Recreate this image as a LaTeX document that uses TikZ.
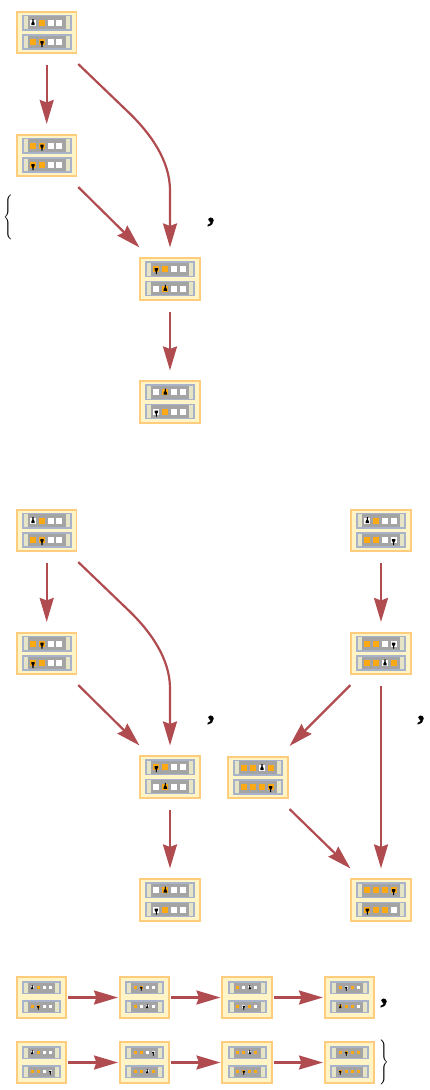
\documentclass[tikz,border=0pt]{standalone}
\usepackage{fontspec}
\setmainfont{Liberation Serif}
\newfontfamily\commafont[FakeBold=1.5]{Liberation Serif Bold}
\usetikzlibrary{arrows.meta}
\definecolor{edgecol}{HTML}{B04B50}
\definecolor{boxline}{HTML}{FDCC7C}
\definecolor{boxfill}{HTML}{FFF4C6}
\definecolor{rowline}{HTML}{A8B3C9}
\definecolor{rowend}{HTML}{E6E4C6}
\definecolor{rowmid}{HTML}{A4A4A4}
\definecolor{cellO}{HTML}{FCA914}
\definecolor{cellW}{HTML}{FFFFFF}
\tikzset{
  x=1pt,y=-1pt,
  largebox/.style={draw=boxline,fill=boxfill,line width=1.6pt,minimum width=59.5pt,minimum height=41.5pt,inner sep=0pt},
  smallbox/.style={draw=boxline,fill=boxfill,line width=1.6pt,minimum width=49.5pt,minimum height=41.5pt,inner sep=0pt},
  conn/.style={draw=edgecol,line width=2.2pt,-{Stealth[length=24pt,width=14pt,inset=2.5pt,fill=edgecol]}},
  bigmark/.style={inner sep=0pt,font=\fontsize{28}{28}\selectfont\commafont},
  delim/.style={inner sep=0pt},
}
\newcommand{\tapecell}[4]{\fill[cell#3] ({#1-#4},{#2-#4}) rectangle ({#1+#4},{#2+#4});}
\newcommand{\headmark}[4]{% x, y, dir, scale
  \begin{scope}[shift={(#1,{#2+(0.7+1.3*#3)*#4})},xscale=#4,yscale={#3*#4}]
  \fill[black] (-1.7,-3) -- (1.7,-3) -- (1.7,-1.4) -- (0.55,0.6) -- (0.55,3) -- (-0.55,3) -- (-0.55,0.6) -- (-1.7,-1.4) -- cycle;
  \end{scope}}
\newcommand{\largerow}[7]{% y, c1..c4, headindex, dir
  \fill[rowline] (-25,{#1-7.8}) rectangle (25,{#1+7.8});
  \fill[rowend] (-23,{#1-6.3}) rectangle (23,{#1+6.3});
  \fill[rowmid] (-19,{#1-6.3}) rectangle (19,{#1+6.3});
  \tapecell{-13.7}{#1}{#2}{3}\tapecell{-4.7}{#1}{#3}{3}\tapecell{4}{#1}{#4}{3}\tapecell{12.6}{#1}{#5}{3}
  \ifcase#6\or\headmark{-13.7}{#1}{#7}{1}\or\headmark{-4.7}{#1}{#7}{1}\or\headmark{4}{#1}{#7}{1}\or\headmark{12.6}{#1}{#7}{1}\fi}
\newcommand{\smallrow}[7]{%
  \fill[rowline] (-19.5,{#1-6.5}) rectangle (19.5,{#1+6.5});
  \fill[rowend] (-17.5,{#1-5}) rectangle (17.5,{#1+5});
  \fill[rowmid] (-13.5,{#1-5}) rectangle (13.5,{#1+5});
  \tapecell{-9.2}{#1}{#2}{1.6}\tapecell{-3.2}{#1}{#3}{1.6}\tapecell{2.8}{#1}{#4}{1.6}\tapecell{8.8}{#1}{#5}{1.6}
  \ifcase#6\or\headmark{-9.2}{#1}{#7}{0.65}\or\headmark{-3.2}{#1}{#7}{0.65}\or\headmark{2.8}{#1}{#7}{0.65}\or\headmark{8.8}{#1}{#7}{0.65}\fi}
\newcommand{\stateL}[5]{\node[largebox] (#1) at (#2,#3) {};
  \begin{scope}[shift={(#2,#3)}]\largerow{-9.8}#4\largerow{9.5}#5\end{scope}}
\newcommand{\stateS}[5]{\node[smallbox] (#1) at (#2,#3) {};
  \begin{scope}[shift={(#2,#3)}]\smallrow{-10}#4\smallrow{9}#5\end{scope}}
\begin{document}
\begin{tikzpicture}
\useasboundingbox (0,0) rectangle (430,1090);
% top group
\stateL{a1}{46.7}{32.5}{{W}{O}{W}{W}{1}{-1}}{{O}{O}{W}{W}{2}{1}}
\stateL{a2}{46.7}{155.5}{{O}{O}{W}{W}{2}{1}}{{O}{O}{W}{W}{1}{1}}
\stateL{a3}{170}{279}{{O}{O}{W}{W}{1}{1}}{{W}{O}{W}{W}{2}{-1}}
\stateL{a4}{170}{402}{{W}{O}{W}{W}{2}{-1}}{{W}{O}{W}{W}{1}{1}}
\draw[conn,shorten <=11pt,shorten >=10pt] (a1) -- (a2);
\draw[conn,shorten <=11pt,shorten >=10pt] (a3) -- (a4);
\draw[conn] ([shift={(1,10)}]a2.south east) -- ([shift={(0,-10)}]a3.north west);
\draw[conn] ([shift={(1,10)}]a1.south east) -- ([shift={(51,58)}]a1.south east) .. controls ([shift={(73,79)}]a1.south east) and ([shift={(0,-97)}]a3.north) .. ([shift={(0,-67)}]a3.north) -- ([shift={(0,-10)}]a3.north);
% middle left group
\stateL{b1}{46.7}{530.5}{{W}{O}{W}{W}{1}{-1}}{{O}{O}{W}{W}{2}{1}}
\stateL{b2}{46.7}{653.5}{{O}{O}{W}{W}{2}{1}}{{O}{O}{W}{W}{1}{1}}
\stateL{b3}{170}{777}{{O}{O}{W}{W}{1}{1}}{{W}{O}{W}{W}{2}{-1}}
\stateL{b4}{170}{900}{{W}{O}{W}{W}{2}{-1}}{{W}{O}{W}{W}{1}{1}}
\draw[conn,shorten <=11pt,shorten >=10pt] (b1) -- (b2);
\draw[conn,shorten <=11pt,shorten >=10pt] (b3) -- (b4);
\draw[conn] ([shift={(1,10)}]b2.south east) -- ([shift={(0,-10)}]b3.north west);
\draw[conn] ([shift={(1,10)}]b1.south east) -- ([shift={(51,58)}]b1.south east) .. controls ([shift={(73,79)}]b1.south east) and ([shift={(0,-97)}]b3.north) .. ([shift={(0,-67)}]b3.north) -- ([shift={(0,-10)}]b3.north);
% middle right group
\stateL{c1}{381}{530.5}{{W}{O}{W}{W}{1}{-1}}{{O}{O}{W}{W}{4}{1}}
\stateL{c2}{381}{653.5}{{O}{O}{W}{W}{4}{1}}{{O}{O}{W}{O}{3}{-1}}
\stateL{c3}{258}{777.5}{{O}{O}{W}{O}{3}{-1}}{{O}{O}{O}{O}{4}{1}}
\stateL{c4}{381}{900}{{O}{O}{O}{O}{4}{1}}{{O}{O}{O}{W}{1}{1}}
\draw[conn,shorten <=11pt,shorten >=10pt] (c1) -- (c2);
\draw[conn,shorten <=11pt,shorten >=10pt] (c2) -- (c4);
\draw[conn] ([shift={(0,10)}]c2.south west) -- ([shift={(1,-10)}]c3.north east);
\draw[conn] ([shift={(1,10)}]c3.south east) -- ([shift={(0,-10)}]c4.north west);
% bottom rows
\stateS{s1}{41.5}{997.5}{{W}{O}{W}{W}{1}{-1}}{{O}{O}{W}{W}{2}{1}}
\stateS{s2}{144.5}{997.5}{{O}{O}{W}{W}{2}{1}}{{O}{W}{W}{W}{3}{-1}}
\stateS{s3}{247}{997.5}{{O}{W}{W}{W}{3}{-1}}{{O}{W}{O}{W}{2}{1}}
\stateS{s4}{349.5}{997.5}{{O}{W}{O}{W}{2}{1}}{{O}{O}{O}{W}{1}{-1}}
\stateS{t1}{41.5}{1062.5}{{W}{O}{W}{W}{1}{-1}}{{O}{O}{W}{W}{4}{1}}
\stateS{t2}{144.5}{1062.5}{{O}{O}{W}{W}{4}{1}}{{O}{O}{W}{O}{3}{-1}}
\stateS{t3}{247}{1062.5}{{O}{O}{W}{O}{3}{-1}}{{O}{O}{O}{O}{2}{1}}
\stateS{t4}{349.5}{1062.5}{{O}{O}{O}{O}{2}{1}}{{O}{O}{O}{O}{1}{1}}
\foreach \u/\v in {s1/s2,s2/s3,s3/s4,t1/t2,t2/t3,t3/t4}
  \draw[conn,shorten <=1pt,shorten >=1pt] (\u) -- (\v);
% punctuation
\node[bigmark] (m1) at (211,222) {,};
\node[bigmark] (m2) at (211,720) {,};
\node[bigmark] (m3) at (421,720) {,};
\node[bigmark] (m4) at (384,1003) {,};
\node[delim] (open) at (8.5,217) {\scalebox{1.2}[1.5]{$\Bigg\{$}};
\node[delim] (close) at (384,1062) {\scalebox{1.2}[1.5]{$\Bigg\}$}};
\end{tikzpicture}
\end{document}
